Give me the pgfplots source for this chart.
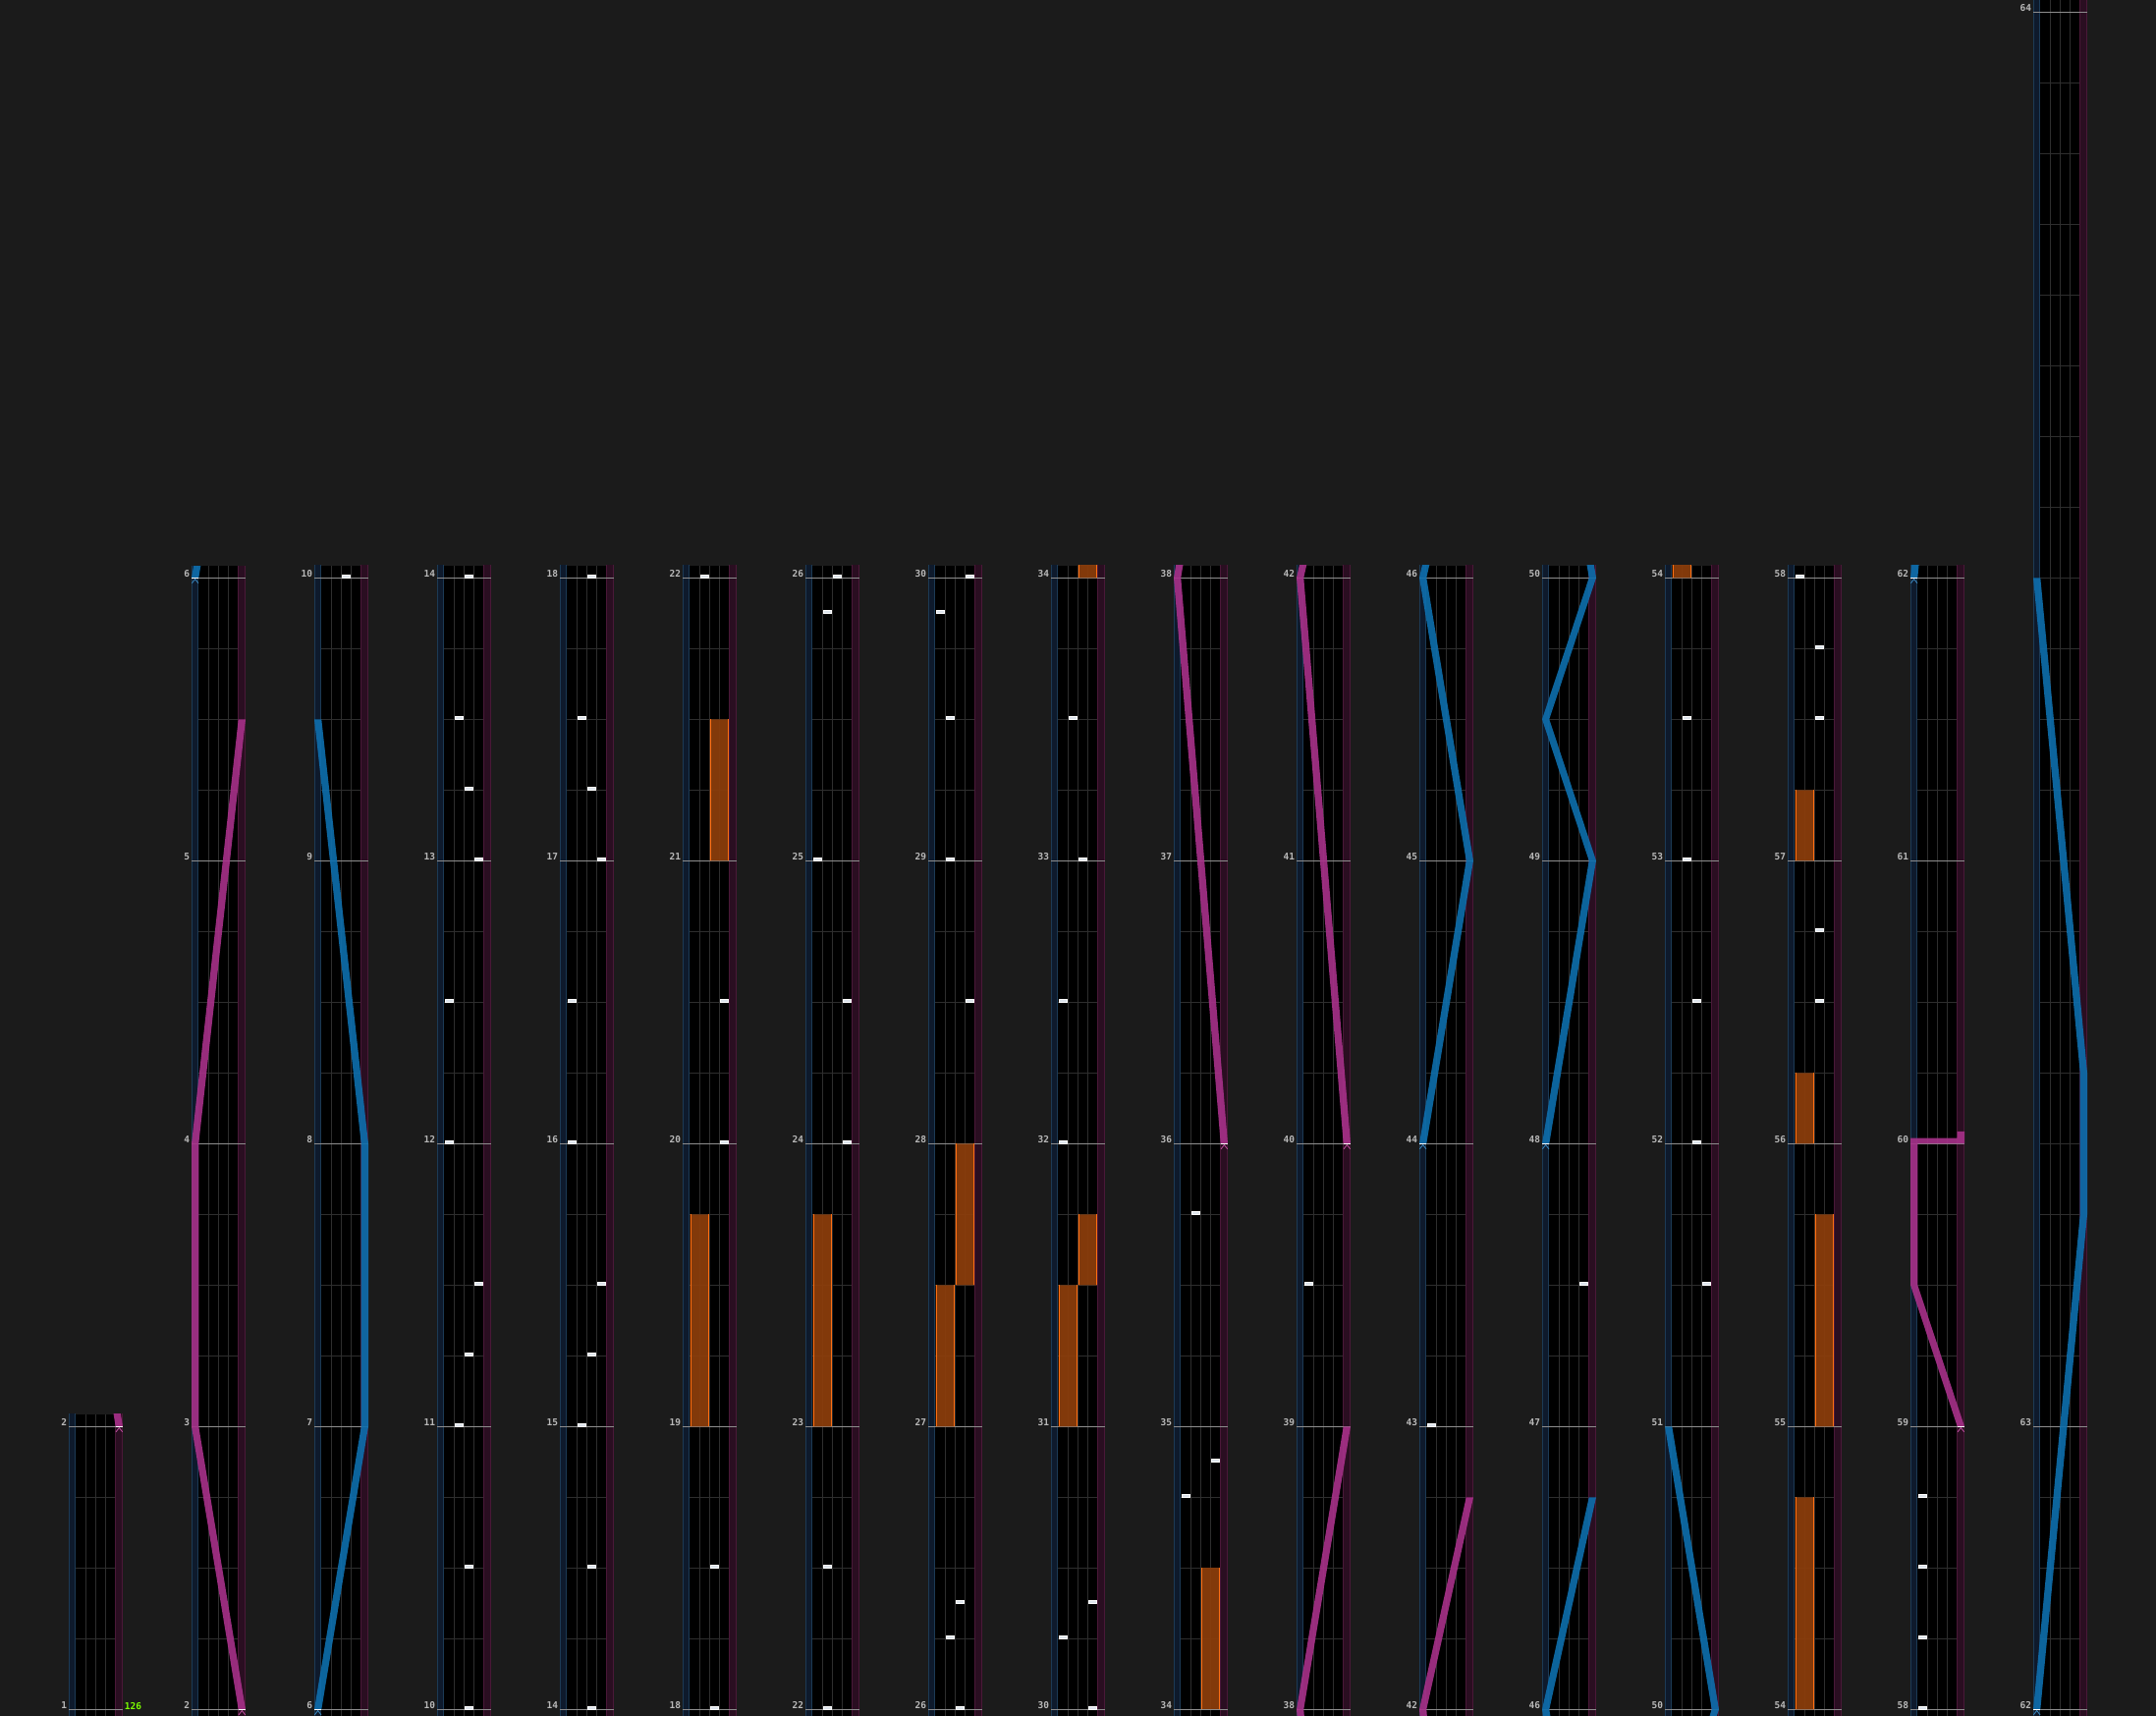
\documentclass[border=0pt]{standalone}
\usepackage{fontspec}
\usepackage{pgfplots}
\usepackage{pgfplotstable}
\pgfplotsset{compat=1.18}
\newfontfamily\monob{DejaVu Sans Mono}

\makeatletter
\newcommand{\setbb}{\pgfresetboundingbox\global\pgf@relevantforpicturesizetrue
  \path (0,0) rectangle (2195pt,1746pt);}
\makeatother

\definecolor{bg}{HTML}{1B1B1B}
\definecolor{lsf}{HTML}{0E1A2C}
\definecolor{lse}{HTML}{1C3A55}
\definecolor{rsf}{HTML}{2A0E21}
\definecolor{rse}{HTML}{4A1838}
\definecolor{gridc}{HTML}{2E2E2E}
\definecolor{measc}{HTML}{8E8E8E}
\definecolor{labc}{HTML}{B9B9B9}
\definecolor{lmag}{HTML}{A8318A}
\definecolor{lblu}{HTML}{0E6FAE}
\definecolor{cmag}{HTML}{C050A0}
\definecolor{cblu}{HTML}{3A88C0}
\definecolor{fxf}{HTML}{8C3E0B}
\definecolor{fxe}{HTML}{FF6F12}
\definecolor{chipf}{HTML}{DDE4EC}
\definecolor{bpmg}{HTML}{7CFC00}

\pgfdeclareplotmark{chip}{%
  \pgfpathrectangle{\pgfpoint{-4.2pt}{0.3pt}}{\pgfpoint{8.4pt}{2.7pt}}%
  \pgfusepathqfillstroke}

% chips: lane (1-4) and time in measures
\pgfplotstableread{
lane m
3 10
3 10.5
2 11
3 11.25
4 11.5
1 12
1 12.5
4 13
3 13.25
2 13.5
3 14
3 14.5
2 15
3 15.25
4 15.5
1 16
1 16.5
4 17
3 17.25
2 17.5
3 18
3 18.5
4 20
4 20.5
2 22
2 22.5
4 24
4 24.5
1 25
2 25.875
3 26
2 26.25
3 26.375
4 28.5
2 29
2 29.5
1 29.875
4 30
1 30.25
4 30.375
1 32
1 32.5
3 33
2 33.5
1 34.75
4 34.875
2 35.75
1 39.5
1 43
4 47.5
4 51.5
3 52
3 52.5
2 53
2 53.5
3 56.5
3 56.75
3 57.5
3 57.75
1 58
1 58.25
1 58.5
1 58.75
}\chips

\pgfplotsset{colstyle/.style={
  anchor=south west, scale only axis, width=55pt,
  xmin=0, xmax=55, enlargelimits=false,
  axis background/.style={fill=black},
  axis line style={draw=none},
  major tick length=0pt, minor tick length=0pt,
  tick style={draw=none},
  xtick={17.3,27.3,37.3}, xticklabels={,,},
  xmajorgrids, yminorgrids, ymajorgrids=false,
  major grid style={gridc, line width=1pt},
  minor grid style={gridc, line width=1pt},
  yticklabel style={font=\monob\bfseries\fontsize{9.5}{10}\selectfont, text=labc,
     anchor=base east, inner sep=0pt, xshift=-1.7pt, yshift=0.6pt},
  /pgf/number format/assume math mode=true,
  clip=true,
  magl/.style={fill=lmag, draw=none, fill opacity=0.9, unbounded coords=jump},
  blul/.style={fill=lblu, draw=none, fill opacity=0.9, unbounded coords=jump},
}}

% laser chains with their start marks
\newcommand{\magA}{%
  \addplot[magl] coordinates {(47.7,2) (0,3) (0,4) (47.7,5.5) (55,5.5) (7.3,4) (7.3,3) (55,2)};
  \addplot[white, line width=1pt] coordinates {(47.7,2) (55,2)};
  \addplot[cmag, line width=0.8pt] coordinates {(48.05,1.981) (51.35,1.9958) (54.65,1.981)};}
\newcommand{\magB}{%
  \addplot[magl] coordinates {(47.7,36) (0,38) (47.7,39) (55,39) (7.3,38) (55,36)};
  \addplot[white, line width=1pt] coordinates {(47.7,36) (55,36)};
  \addplot[cmag, line width=0.8pt] coordinates {(48.05,35.981) (51.35,35.9958) (54.65,35.981)};}
\newcommand{\magC}{%
  \addplot[magl] coordinates {(47.7,40) (0,42) (47.7,42.75) (55,42.75) (7.3,42) (55,40)};
  \addplot[white, line width=1pt] coordinates {(47.7,40) (55,40)};
  \addplot[cmag, line width=0.8pt] coordinates {(48.05,39.981) (51.35,39.9958) (54.65,39.981)};}
\newcommand{\magD}{%
  \addplot[magl] coordinates {(47.7,59) (0,59.5) (0,60.0198) (7.3,60.0198) (7.3,59.5) (55,59) (nan,nan)
    (7.3,60) (47.7,60) (47.7,60.0198) (7.3,60.0198) (nan,nan)
    (47.7,60) (55,60) (55,60.0427) (47.7,60.0427)};
  \addplot[white, line width=1pt] coordinates {(47.7,59) (55,59)};
  \addplot[cmag, line width=0.8pt] coordinates {(48.05,58.981) (51.35,58.9958) (54.65,58.981)};}
\newcommand{\bluA}{%
  \addplot[blul] coordinates {(0,6) (47.7,7) (47.7,8) (0,9.5) (7.3,9.5) (55,8) (55,7) (7.3,6)};
  \addplot[white, line width=1pt] coordinates {(0,6) (7.3,6)};
  \addplot[cblu, line width=0.8pt] coordinates {(0.35,5.981) (3.65,5.9958) (6.95,5.981)};}
\newcommand{\bluB}{%
  \addplot[blul] coordinates {(0,44) (47.7,45) (0,46) (47.7,46.75) (55,46.75) (7.3,46) (55,45) (7.3,44)};
  \addplot[white, line width=1pt] coordinates {(0,44) (7.3,44)};
  \addplot[cblu, line width=0.8pt] coordinates {(0.35,43.981) (3.65,43.9958) (6.95,43.981)};}
\newcommand{\bluC}{%
  \addplot[blul] coordinates {(0,48) (47.7,49) (0,49.5) (47.7,50) (0,51) (7.3,51) (55,50) (7.3,49.5) (55,49) (7.3,48)};
  \addplot[white, line width=1pt] coordinates {(0,48) (7.3,48)};
  \addplot[cblu, line width=0.8pt] coordinates {(0.35,47.981) (3.65,47.9958) (6.95,47.981)};}
\newcommand{\bluD}{%
  \addplot[blul] coordinates {(0,62) (47.7,63.75) (47.7,64.25) (0,66) (7.3,66) (55,64.25) (55,63.75) (7.3,62)};
  \addplot[white, line width=1pt] coordinates {(0,62) (7.3,62)};
  \addplot[cblu, line width=0.8pt] coordinates {(0.35,61.981) (3.65,61.9958) (6.95,61.981)};}

\newcommand{\fxholds}{%
  \addplot[fill=fxf, draw=none, fill opacity=0.93, unbounded coords=jump, restrict y to domain=\lo:\hi] coordinates {
    (7.6,19) (26.9,19) (26.9,19.75) (7.6,19.75) (nan,nan)
    (7.6,23) (26.9,23) (26.9,23.75) (7.6,23.75) (nan,nan)
    (7.6,27) (26.9,27) (26.9,27.5) (7.6,27.5) (nan,nan)
    (7.6,31) (26.9,31) (26.9,31.5) (7.6,31.5) (nan,nan)
    (7.6,54) (26.9,54) (26.9,54.75) (7.6,54.75) (nan,nan)
    (7.6,56) (26.9,56) (26.9,56.25) (7.6,56.25) (nan,nan)
    (7.6,57) (26.9,57) (26.9,57.25) (7.6,57.25) (nan,nan)
    (27.6,21) (46.9,21) (46.9,21.5) (27.6,21.5) (nan,nan)
    (27.6,27.5) (46.9,27.5) (46.9,28) (27.6,28) (nan,nan)
    (27.6,31.5) (46.9,31.5) (46.9,31.75) (27.6,31.75) (nan,nan)
    (27.6,34) (46.9,34) (46.9,34.5) (27.6,34.5) (nan,nan)
    (27.6,55) (46.9,55) (46.9,55.75) (27.6,55.75)
  };
  \addplot[fxe, line width=1pt, unbounded coords=jump, restrict y to domain=\lo:\hi] coordinates {
    (8.1,19) (8.1,19.75) (nan,nan) (26.4,19) (26.4,19.75) (nan,nan)
    (8.1,23) (8.1,23.75) (nan,nan) (26.4,23) (26.4,23.75) (nan,nan)
    (8.1,27) (8.1,27.5) (nan,nan) (26.4,27) (26.4,27.5) (nan,nan)
    (8.1,31) (8.1,31.5) (nan,nan) (26.4,31) (26.4,31.5) (nan,nan)
    (8.1,54) (8.1,54.75) (nan,nan) (26.4,54) (26.4,54.75) (nan,nan)
    (8.1,56) (8.1,56.25) (nan,nan) (26.4,56) (26.4,56.25) (nan,nan)
    (8.1,57) (8.1,57.25) (nan,nan) (26.4,57) (26.4,57.25) (nan,nan)
    (28.1,21) (28.1,21.5) (nan,nan) (46.4,21) (46.4,21.5) (nan,nan)
    (28.1,27.5) (28.1,28) (nan,nan) (46.4,27.5) (46.4,28) (nan,nan)
    (28.1,31.5) (28.1,31.75) (nan,nan) (46.4,31.5) (46.4,31.75) (nan,nan)
    (28.1,34) (28.1,34.5) (nan,nan) (46.4,34) (46.4,34.5) (nan,nan)
    (28.1,55) (28.1,55.75) (nan,nan) (46.4,55) (46.4,55.75)
  };
}

% #1 left, #2 height, #3 ymin, #4 ymax, #5 measure ticks, #6 labels, #7 beat lines, #8 lasers
\newcommand{\lanecol}[8]{%
\pgfmathsetmacro\lo{#3-2}\pgfmathsetmacro\hi{#4+2}%
\begin{axis}[colstyle, at={(#1pt,-6.6pt)}, height=#2pt, ymin=#3, ymax=#4,
   ytick={#5}, yticklabels={#6}, minor ytick={#7}]
  \addplot[fill=lsf, draw=none] coordinates {(0,\lo) (7.3,\lo) (7.3,\hi) (0,\hi)};
  \addplot[fill=rsf, draw=none] coordinates {(47.3,\lo) (55,\lo) (55,\hi) (47.3,\hi)};
  \addplot[lse, line width=1pt, unbounded coords=jump] coordinates {(0.5,\lo) (0.5,\hi) (nan,nan) (6.8,\lo) (6.8,\hi)};
  \addplot[rse, line width=1pt, unbounded coords=jump] coordinates {(47.8,\lo) (47.8,\hi) (nan,nan) (54.5,\lo) (54.5,\hi)};
  \pgfplotsinvokeforeach{#5}{\addplot[measc, line width=0.9pt] coordinates {(0,##1) (55,##1)};}
  \fxholds
  #8
  \addplot[only marks, mark=chip, mark options={fill=chipf, draw=white, line width=0.6pt},
    restrict y to domain=\lo:\hi]
    table[x expr=2.3+10*\thisrow{lane}, y=m] {\chips};
\end{axis}}

\begin{document}
\begin{tikzpicture}
\fill[bg] (-8pt,-8pt) rectangle (2203pt,1754pt);

\lanecol{70}{312.6}{0.9573}{2.0427}{1,2}{1,2}{1,1.25,...,2}{\magA\coordinate (bpm) at (axis cs:55,1);}
\node[anchor=base west, inner sep=0pt, font=\monob\bfseries\fontsize{9.5}{10}\selectfont, text=bpmg] at ([xshift=1.7pt]bpm) {126};
\lanecol{195}{1176.6}{1.9573}{6.0427}{2,3,4,5,6}{2,3,4,5,6}{2,2.25,...,6}{\magA\bluA}
\lanecol{320}{1176.6}{5.9573}{10.0427}{6,7,8,9,10}{6,7,8,9,10}{6,6.25,...,10}{\bluA}
\lanecol{445}{1176.6}{9.9573}{14.0427}{10,11,12,13,14}{10,11,12,13,14}{10,10.25,...,14}{}
\lanecol{570}{1176.6}{13.9573}{18.0427}{14,15,16,17,18}{14,15,16,17,18}{14,14.25,...,18}{}
\lanecol{695}{1176.6}{17.9573}{22.0427}{18,19,20,21,22}{18,19,20,21,22}{18,18.25,...,22}{}
\lanecol{820}{1176.6}{21.9573}{26.0427}{22,23,24,25,26}{22,23,24,25,26}{22,22.25,...,26}{}
\lanecol{945}{1176.6}{25.9573}{30.0427}{26,27,28,29,30}{26,27,28,29,30}{26,26.25,...,30}{}
\lanecol{1070}{1176.6}{29.9573}{34.0427}{30,31,32,33,34}{30,31,32,33,34}{30,30.25,...,34}{}
\lanecol{1195}{1176.6}{33.9573}{38.0427}{34,35,36,37,38}{34,35,36,37,38}{34,34.25,...,38}{\magB}
\lanecol{1320}{1176.6}{37.9573}{42.0427}{38,39,40,41,42}{38,39,40,41,42}{38,38.25,...,42}{\magB\magC}
\lanecol{1445}{1176.6}{41.9573}{46.0427}{42,43,44,45,46}{42,43,44,45,46}{42,42.25,...,46}{\magC\bluB}
\lanecol{1570}{1176.6}{45.9573}{50.0427}{46,47,48,49,50}{46,47,48,49,50}{46,46.25,...,50}{\bluB\bluC}
\lanecol{1695}{1176.6}{49.9573}{54.0427}{50,51,52,53,54}{50,51,52,53,54}{50,50.25,...,54}{\bluC}
\lanecol{1820}{1176.6}{53.9573}{58.0427}{54,55,56,57,58}{54,55,56,57,58}{54,54.25,...,58}{}
\lanecol{1945}{1176.6}{57.9573}{62.0427}{58,59,60,61,62}{58,59,60,61,62}{58,58.25,...,62}{\magD\bluD}
\lanecol{2070}{1752.6}{61.9573}{68.0427}{62,63,68}{62,63,64}{62,62.25,...,68}{\bluD}

\setbb
\end{tikzpicture}
\end{document}
